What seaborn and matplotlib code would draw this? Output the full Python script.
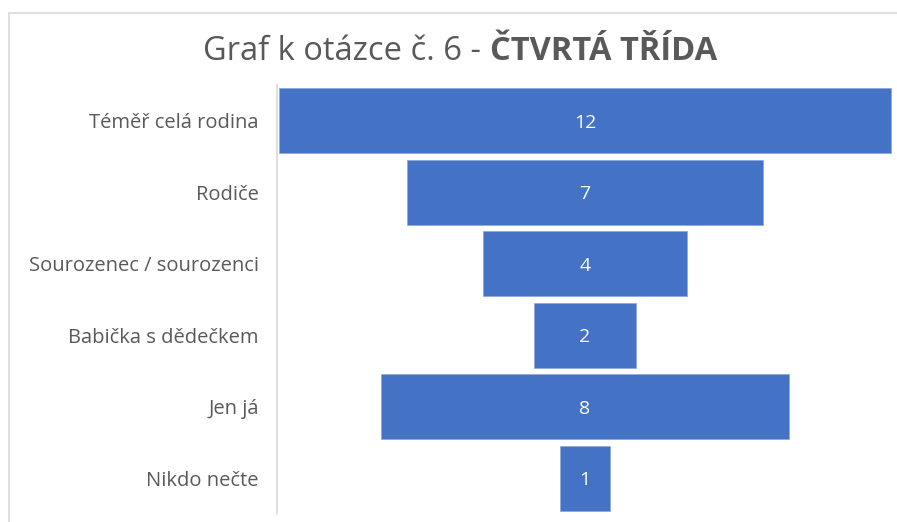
import numpy as np
import matplotlib
matplotlib.use('Agg')
import matplotlib.pyplot as plt
import seaborn as sns
from matplotlib.patches import Rectangle

categories = ['Téměř celá rodina', 'Rodiče', 'Sourozenec / sourozenci',
              'Babička s dědečkem', 'Jen já', 'Nikdo nečte']
values = [12, 7, 4, 2, 8, 1]
title_normal = 'Graf k otázce č. 6 - '
title_bold = 'ČTVRTÁ TŘÍDA'

sns.set_style('white')
plt.rcParams['font.family'] = ['Open Sans', 'DejaVu Sans']

W, H = 897, 522
fig = plt.figure(figsize=(W / 100, H / 100), dpi=100)
ax = fig.add_axes([277 / W, 1 - 514 / H, (893 - 277) / W, (514 - 85) / H])

bar_color = '#4472C4'
vals = np.array(values)
ypos = np.arange(len(categories))
ax.barh(ypos, vals, left=-vals / 2, height=0.91, color=bar_color,
        edgecolor='#8FAADC', linewidth=0.6)
for y, v in zip(ypos, vals):
    ax.text(0, y, str(v), ha='center', va='center_baseline', color='white', fontsize=14)

ax.set_yticks(ypos)
ax.set_yticklabels(categories, fontsize=14.5, color='#595959', va='center_baseline')
ax.tick_params(axis='y', length=0, pad=13)
ax.set_xticks([])
ax.set_xlim(-6.04, 6.04)
ax.set_ylim(len(categories) - 0.5, -0.5)
for s in ['top', 'right', 'bottom']:
    ax.spines[s].set_visible(False)
ax.spines['left'].set_color('#D9D9D9')
ax.spines['left'].set_linewidth(1.2)

# title with a bold part, centred as a whole
t1 = fig.text(0, 1 - 51 / H, title_normal, fontsize=23.5, color='#595959',
              va='center', ha='left')
t2 = fig.text(0, 1 - 51 / H, title_bold, fontsize=23.5, color='#595959',
              va='center', ha='left', fontweight='bold')
fig.canvas.draw()
r = fig.canvas.get_renderer()
w1 = t1.get_window_extent(r).width
w2 = t2.get_window_extent(r).width
x0 = 460 - (w1 + w2) / 2
t1.set_x(x0 / W)
t2.set_x((x0 + w1) / W)

# chart frame
fig.patches.append(Rectangle((9 / W, -0.1), 1.2, 1 - 13 / H + 0.1,
                             transform=fig.transFigure, fill=False,
                             edgecolor='#D9D9D9', linewidth=1.2))

fig.savefig('out.png', dpi=100)
